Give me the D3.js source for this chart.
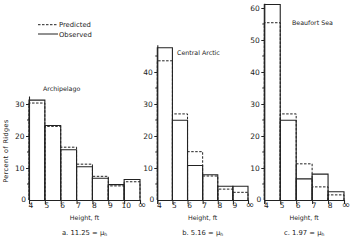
<!DOCTYPE html>
<html>
<head>
<meta charset="utf-8">
<script src="https://cdn.jsdelivr.net/npm/d3@7"></script>
<style>
  body { margin: 0; background: #fff; }
  svg text { font-family: "DejaVu Sans", sans-serif; fill: #222; }
</style>
</head>
<body>
<div id="plot"></div>
<script>
var width = 350;
var height = 241;

// bin edges (tick labels) per region
var edgesA = ['4', '5', '6', '7', '8', '9', '10', '\u221E'];
var edgesB = ['4', '5', '6', '7', '8', '9', '\u221E'];
var edgesC = ['4', '5', '6', '7', '8', '\u221E'];

// percent of ridges per bin
var observedA = [31.2, 23.3, 15.7, 10.4, 6.8, 4.8, 6.4];
var predictedA = [30.3, 23.0, 16.5, 11.2, 7.4, 4.4, 5.7];
var observedB = [47.6, 24.9, 10.8, 7.9, 4.3, 4.3];
var predictedB = [43.5, 26.9, 15.1, 7.5, 3.4, 2.4];
var observedC = [61.1, 24.9, 6.6, 8.1, 2.6];
var predictedC = [55.4, 26.9, 11.3, 4.1, 1.6];

var titles = ['Archipelago', 'Central Arctic', 'Beaufort Sea'];
var captions = ['a. 11.25 = \u03BC', 'b. 5.16 = \u03BC', 'c. 1.97 = \u03BC'];
var yMax = [32.5, 48.5, 61.5];

var canvas = d3.select('#plot')
    .append('svg')
    .attr('width', width)
    .attr('height', height);

var baseY = 200;
var pxPerUnit = 3.2;

var panels = [
    { edges: edgesA, obs: observedA, pred: predictedA, x0: 29, x1: 140, title: [43, 91, 'start'] },
    { edges: edgesB, obs: observedB, pred: predictedB, x0: 157.3, x1: 248, title: [177, 55, 'start'] },
    { edges: edgesC, obs: observedC, pred: predictedC, x0: 264.3, x1: 344, title: [292, 25, 'start'] }
];

panels.forEach(function(p, i) {
    var n = p.obs.length;
    var x_scale = d3.scaleLinear().domain([0, n]).range([p.x0, p.x1]);
    var y_scale = d3.scaleLinear().domain([0, yMax[i]])
        .range([baseY, baseY - yMax[i] * pxPerUnit]);

    var g = canvas.append('g');

    // predicted (dashed) bars
    g.selectAll('path.pred')
        .data(p.pred)
        .enter()
        .append('path')
        .attr('class', 'pred')
        .attr('d', function(d, j) {
            return 'M' + x_scale(j) + ',' + baseY + 'V' + y_scale(d) +
                'H' + x_scale(j + 1) + 'V' + baseY;
        })
        .attr('fill', 'none')
        .attr('stroke', '#222')
        .attr('stroke-width', 1)
        .attr('stroke-dasharray', '2.5,1.5');

    // observed (solid) bars
    g.selectAll('path.obs')
        .data(p.obs)
        .enter()
        .append('path')
        .attr('class', 'obs')
        .attr('d', function(d, j) {
            return 'M' + x_scale(j) + ',' + baseY + 'V' + y_scale(d) +
                'H' + x_scale(j + 1) + 'V' + baseY;
        })
        .attr('fill', 'none')
        .attr('stroke', '#222')
        .attr('stroke-width', 1.1);

    // x axis
    var x_axis = d3.axisBottom(x_scale)
        .tickValues(d3.range(n + 1))
        .tickFormat(function(d) { return p.edges[d]; })
        .tickSize(4)
        .tickPadding(-1);
    var xa = g.append('g')
        .attr('transform', 'translate(0,' + baseY + ')')
        .call(x_axis);
    xa.select('.domain').attr('stroke', '#222').attr('stroke-width', 1.1);
    xa.selectAll('.tick line').attr('stroke', '#222');
    xa.selectAll('.tick text')
        .attr('font-size', function(d) { return d === n ? 10 : 7.5; })
        .attr('font-family', 'DejaVu Sans')
        .attr('fill', '#222')
        .attr('dy', function(d) { return d === n ? '0.5em' : '0.71em'; })
        .attr('dx', 1.5);

    // y axis, labelled every 10, minor every 5
    var yTicks = d3.range(10, yMax[i], 10);
    var yMinor = d3.range(5, yMax[i], 10);
    var y_axis = d3.axisLeft(y_scale)
        .tickValues(yTicks)
        .tickFormat(d3.format('d'))
        .tickSize(3)
        .tickPadding(1.5)
        .tickSizeOuter(0);
    var ya = g.append('g')
        .attr('transform', 'translate(' + p.x0 + ',0)')
        .call(y_axis);
    ya.select('.domain').attr('stroke', '#222').attr('stroke-width', 1.1);
    ya.selectAll('.tick line').attr('stroke', '#222');
    ya.selectAll('.tick text')
        .attr('font-size', 7.5)
        .attr('font-family', 'DejaVu Sans')
        .attr('fill', '#222');

    g.selectAll('line.minor')
        .data(yMinor)
        .enter()
        .append('line')
        .attr('class', 'minor')
        .attr('x1', p.x0 - 2)
        .attr('x2', p.x0)
        .attr('y1', function(d) { return y_scale(d); })
        .attr('y2', function(d) { return y_scale(d); })
        .attr('stroke', '#222');

    // zero label, sitting low left of the corner
    g.append('text')
        .attr('x', p.x0 - 3)
        .attr('y', baseY + 2)
        .attr('text-anchor', 'end')
        .attr('font-size', 7.5)
        .text('0');

    g.append('text')
        .attr('x', p.title[0])
        .attr('y', p.title[1])
        .attr('text-anchor', p.title[2])
        .attr('font-size', 6.3)
        .text(titles[i]);

    var mid = (p.x0 + p.x1) / 2;
    g.append('text')
        .attr('x', mid)
        .attr('y', 219.5)
        .attr('text-anchor', 'middle')
        .attr('font-size', 6.3)
        .text('Height, ft');

    var cap = g.append('text')
        .attr('x', mid)
        .attr('y', 234.5)
        .attr('text-anchor', 'middle')
        .attr('font-size', 6.8)
        .text(captions[i]);
    cap.append('tspan')
        .attr('font-size', 4.5)
        .attr('dy', 1.5)
        .text('h');
});

// y label
canvas.append('text')
    .attr('transform', 'translate(8,151) rotate(-90)')
    .attr('text-anchor', 'middle')
    .attr('font-size', 6.5)
    .attr('letter-spacing', 0.4)
    .text('Percent of Ridges');

// legend
var legend = [
    { label: 'Predicted', dash: '2.5,1.5', y: 24.7 },
    { label: 'Observed', dash: null, y: 34 }
];
var lg = canvas.append('g');
lg.selectAll('line')
    .data(legend)
    .enter()
    .append('line')
    .attr('x1', 38)
    .attr('x2', 58)
    .attr('y1', function(d) { return d.y; })
    .attr('y2', function(d) { return d.y; })
    .attr('stroke', '#222')
    .attr('stroke-width', 1)
    .attr('stroke-dasharray', function(d) { return d.dash; });
lg.selectAll('text')
    .data(legend)
    .enter()
    .append('text')
    .attr('x', 59)
    .attr('y', function(d) { return d.y + 2.5; })
    .attr('font-size', 6.8)
    .text(function(d) { return d.label; });
</script>
</body>
</html>
